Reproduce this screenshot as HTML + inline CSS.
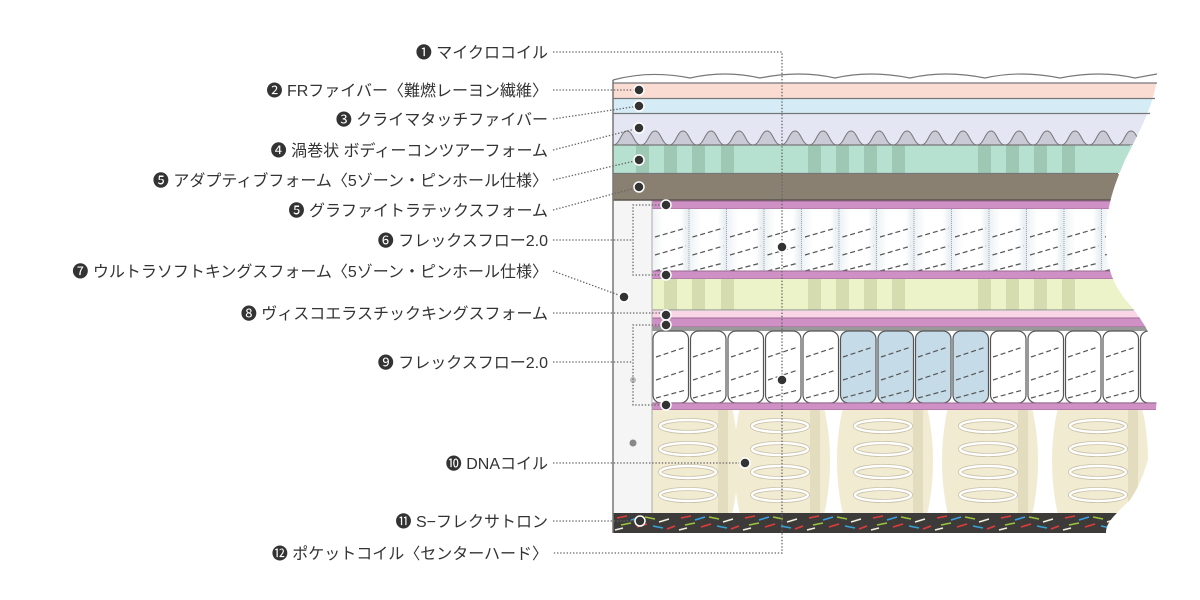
<!DOCTYPE html>
<html><head><meta charset="utf-8"><style>
html,body{margin:0;padding:0;background:#fff;}
svg{display:block}
text{font-family:"Liberation Sans","Noto Sans CJK JP","DejaVu Sans",sans-serif;font-size:16px;fill:#333;}
</style></head><body>
<svg width="1200" height="600" viewBox="0 0 1200 600" xmlns="http://www.w3.org/2000/svg">
<defs>
<clipPath id="body">
<path d="M613,80 L1157,72 C1157,100 1140,130 1125,160 C1112,190 1106,210 1106,240 C1106,265 1112,285 1130,305 C1150,330 1157,345 1157,380 C1157,430 1150,470 1130,500 C1115,515 1106,522 1106,533 L613,533 Z"/>
</clipPath>
<clipPath id="dna"><rect x="652" y="410" width="520" height="103"/></clipPath>
<linearGradient id="cg" x1="0" x2="1" y1="0" y2="0">
<stop offset="0" stop-color="#eef2f5"/><stop offset="0.3" stop-color="#fff"/><stop offset="0.75" stop-color="#fff"/><stop offset="1" stop-color="#e2e9ee"/>
</linearGradient>
<pattern id="coil6" x="652" y="209" width="37.5" height="62" patternUnits="userSpaceOnUse">
<rect width="37.5" height="62" fill="url(#cg)"/>
<line x1="37" y1="0" x2="37" y2="62" stroke="#9aa8b0" stroke-width="1" stroke-dasharray="1 1"/>
<g stroke="#555" stroke-width="1.2" stroke-dasharray="5 3" fill="none">
<path d="M3,28 L34,19"/><path d="M3,46 L34,37"/><path d="M3,62 L34,54"/>
</g>
</pattern>
<pattern id="bot" x="613" y="513" width="64" height="19" patternUnits="userSpaceOnUse">
<rect width="64" height="19" fill="#3c3b3a"/>
<g stroke-width="1.6">
<line x1="4" y1="5" x2="14" y2="3" stroke="#e23b3b"/>
<line x1="18" y1="7" x2="28" y2="4" stroke="#3aa0e0"/>
<line x1="32" y1="4" x2="42" y2="6" stroke="#9bc43c"/>
<line x1="46" y1="9" x2="56" y2="6" stroke="#f0f0e0"/>
<line x1="8" y1="12" x2="18" y2="10" stroke="#9bc43c"/>
<line x1="24" y1="14" x2="34" y2="11" stroke="#e23b3b"/>
<line x1="40" y1="13" x2="50" y2="15" stroke="#3aa0e0"/>
<line x1="54" y1="16" x2="62" y2="13" stroke="#e23b3b"/>
<line x1="2" y1="17" x2="10" y2="15" stroke="#f0f0e0"/>
</g>
</pattern>
<g id="spring" fill="none">
<g stroke="#c8c0a8" stroke-width="4">
<ellipse cx="0" cy="426" rx="28" ry="6"/><ellipse cx="0" cy="449" rx="28" ry="6"/><ellipse cx="0" cy="472" rx="28" ry="6"/><ellipse cx="0" cy="495" rx="28" ry="6"/>
</g>
<g stroke="#fff" stroke-width="2.4">
<ellipse cx="0" cy="426" rx="28" ry="6"/><ellipse cx="0" cy="449" rx="28" ry="6"/><ellipse cx="0" cy="472" rx="28" ry="6"/><ellipse cx="0" cy="495" rx="28" ry="6"/>
</g>
</g>
</defs>

<g clip-path="url(#body)">
<rect x="613" y="70" width="560" height="470" fill="#fff"/>
<rect x="613" y="83" width="560" height="15" fill="#fadcd3"/>
<rect x="613" y="99" width="560" height="14" fill="#d5ecf7"/>
<rect x="613" y="114" width="560" height="31" fill="#e4e6f4"/>
<g fill="#c9cad6" stroke="#777" stroke-width="1">
<path d="M613,145 C620,145 621,131 627,131 C633,131 634,145 641,145 C648,145 649,131 655,131 C661,131 662,145 669,145 C676,145 677,131 683,131 C689,131 690,145 697,145 C704,145 705,131 711,131 C717,131 718,145 725,145 C732,145 733,131 739,131 C745,131 746,145 753,145 C760,145 761,131 767,131 C773,131 774,145 781,145 C788,145 789,131 795,131 C801,131 802,145 809,145 C816,145 817,131 823,131 C829,131 830,145 837,145 C844,145 845,131 851,131 C857,131 858,145 865,145 C872,145 873,131 879,131 C885,131 886,145 893,145 C900,145 901,131 907,131 C913,131 914,145 921,145 C928,145 929,131 935,131 C941,131 942,145 949,145 C956,145 957,131 963,131 C969,131 970,145 977,145 C984,145 985,131 991,131 C997,131 998,145 1005,145 C1012,145 1013,131 1019,131 C1025,131 1026,145 1033,145 C1040,145 1041,131 1047,131 C1053,131 1054,145 1061,145 C1068,145 1069,131 1075,131 C1081,131 1082,145 1089,145 C1096,145 1097,131 1103,131 C1109,131 1110,145 1117,145 C1124,145 1125,131 1131,131 C1137,131 1138,145 1145,145 C1152,145 1153,131 1159,131 L1170,145 Z"/>
</g>
<rect x="613" y="145" width="560" height="28" fill="#b6e0cf"/>
<g fill="#9ec7b4">
<rect x="636" y="145" width="13" height="28"/><rect x="664" y="145" width="13" height="28"/><rect x="692" y="145" width="13" height="28"/><rect x="721" y="145" width="13" height="28"/>
<rect x="808" y="145" width="13" height="28"/><rect x="836" y="145" width="13" height="28"/><rect x="864" y="145" width="13" height="28"/><rect x="892" y="145" width="13" height="28"/>
<rect x="978" y="145" width="13" height="28"/><rect x="1006" y="145" width="13" height="28"/><rect x="1034" y="145" width="13" height="28"/><rect x="1062" y="145" width="13" height="28"/>
</g>
<rect x="613" y="174" width="560" height="26" fill="#8a8072"/>
<line x1="613" y1="200" x2="1170" y2="200" stroke="#5a544c" stroke-width="1.5"/>
<rect x="652" y="201" width="520" height="8" fill="#cf90c5" stroke="#9b6a92" stroke-width="1"/>
<rect x="652" y="209" width="520" height="62" fill="url(#coil6)"/>
<rect x="652" y="271" width="520" height="8" fill="#cf90c5" stroke="#9b6a92" stroke-width="1"/>
<rect x="613" y="279" width="560" height="31" fill="#edf3c8"/>
<g fill="#d5dcb0">
<rect x="636" y="279" width="13" height="31"/><rect x="664" y="279" width="13" height="31"/><rect x="692" y="279" width="13" height="31"/><rect x="721" y="279" width="13" height="31"/>
<rect x="808" y="279" width="13" height="31"/><rect x="836" y="279" width="13" height="31"/><rect x="864" y="279" width="13" height="31"/><rect x="892" y="279" width="13" height="31"/>
<rect x="978" y="279" width="13" height="31"/><rect x="1006" y="279" width="13" height="31"/><rect x="1034" y="279" width="13" height="31"/><rect x="1062" y="279" width="13" height="31"/>
</g>
<line x1="613" y1="310" x2="1170" y2="310" stroke="#888" stroke-width="1"/>
<rect x="652" y="311" width="520" height="7" fill="#f9d5e6"/>
<rect x="652" y="318" width="520" height="9" fill="#cf90c5" stroke="#9b6a92" stroke-width="1"/>
<rect x="652" y="327" width="520" height="4" fill="#999"/>
<g stroke="#555" stroke-width="1.2" fill="#fff">
<rect x="653" y="331" width="35.5" height="72" rx="8"/><rect x="690.5" y="331" width="35.5" height="72" rx="8"/><rect x="728" y="331" width="35.5" height="72" rx="8"/><rect x="765.5" y="331" width="35.5" height="72" rx="8"/><rect x="803" y="331" width="35.5" height="72" rx="8"/>
<rect x="840.5" y="331" width="35.5" height="72" rx="8" fill="#c6dbe8"/><rect x="878" y="331" width="35.5" height="72" rx="8" fill="#c6dbe8"/><rect x="915.5" y="331" width="35.5" height="72" rx="8" fill="#c6dbe8"/><rect x="953" y="331" width="35.5" height="72" rx="8" fill="#c6dbe8"/>
<rect x="990.5" y="331" width="35.5" height="72" rx="8"/><rect x="1028" y="331" width="35.5" height="72" rx="8"/><rect x="1065.5" y="331" width="35.5" height="72" rx="8"/><rect x="1103" y="331" width="35.5" height="72" rx="8"/><rect x="1140.5" y="331" width="35.5" height="72" rx="8"/>
</g>
<g stroke="#555" stroke-width="1.2" stroke-dasharray="5 3" fill="none">
<path d="M656,357 L686,347 M656,380 L686,370 M656,398 L686,390"/>
<path d="M693,357 L723,347 M693,380 L723,370 M693,398 L723,390"/>
<path d="M731,357 L761,347 M731,380 L761,370 M731,398 L761,390"/>
<path d="M768,357 L798,347 M768,380 L798,370 M768,398 L798,390"/>
<path d="M806,357 L836,347 M806,380 L836,370 M806,398 L836,390"/>
<path d="M843,357 L873,347 M843,380 L873,370 M843,398 L873,390"/>
<path d="M881,357 L911,347 M881,380 L911,370 M881,398 L911,390"/>
<path d="M918,357 L948,347 M918,380 L948,370 M918,398 L948,390"/>
<path d="M956,357 L986,347 M956,380 L986,370 M956,398 L986,390"/>
<path d="M993,357 L1023,347 M993,380 L1023,370 M993,398 L1023,390"/>
<path d="M1031,357 L1061,347 M1031,380 L1061,370 M1031,398 L1061,390"/>
<path d="M1068,357 L1098,347 M1068,380 L1098,370 M1068,398 L1098,390"/>
<path d="M1106,357 L1136,347 M1106,380 L1136,370 M1106,398 L1136,390"/>
</g>
<rect x="652" y="403" width="520" height="7" fill="#cf90c5" stroke="#9b6a92" stroke-width="1"/>
<g clip-path="url(#dna)">
<rect x="652" y="410" width="520" height="103" fill="#fff"/>
<g fill="#f1ebd2">
<ellipse cx="690" cy="461" rx="48" ry="110"/>
<ellipse cx="782" cy="461" rx="48" ry="110"/>
<ellipse cx="885" cy="461" rx="48" ry="110"/>
<ellipse cx="990" cy="461" rx="48" ry="110"/>
<ellipse cx="1100" cy="461" rx="48" ry="110"/>
</g>
<g fill="#e4dcbf">
<rect x="718" y="410" width="10" height="103"/><rect x="810" y="410" width="10" height="103"/><rect x="913" y="410" width="10" height="103"/><rect x="1018" y="410" width="10" height="103"/><rect x="1128" y="410" width="10" height="103"/>
</g>
<use href="#spring" x="688"/><use href="#spring" x="780"/><use href="#spring" x="883"/><use href="#spring" x="988"/><use href="#spring" x="1098"/>
</g>
<rect x="613" y="201" width="39" height="312" fill="#f5f5f5"/>
<line x1="652" y1="201" x2="652" y2="513" stroke="#aaa" stroke-width="1"/>
<rect x="613" y="513" width="560" height="20" fill="url(#bot)"/>
</g>
<path d="M613,533 L613,80" stroke="#777" stroke-width="1.5" fill="none"/>
<path d="M613,80 Q650,70 690,78 Q725,70 760,78 Q800,70 835,78 Q870,70 910,78 Q945,70 985,78 Q1020,70 1060,78 Q1100,70 1135,78 L1157,74" stroke="#777" stroke-width="1.2" fill="none"/>
<g stroke="#777" stroke-width="1.2">
<line x1="613" y1="83" x2="1157" y2="83"/><line x1="613" y1="98.5" x2="1155" y2="98.5"/><line x1="613" y1="113.5" x2="1150" y2="113.5"/><line x1="613" y1="145" x2="1130" y2="145"/><line x1="613" y1="173.5" x2="1118" y2="173.5"/>
</g>
<circle cx="633" cy="380" r="3" fill="#bbb"/><circle cx="633" cy="443" r="3.5" fill="#888"/>

<g stroke="#666" stroke-width="1.3" stroke-dasharray="1.4 1.8" fill="none">
<path d="M553,52 H782 V553 H553"/>
<path d="M553,90 H639"/>
<path d="M553,119 L639,106"/>
<path d="M553,150 L639,128"/>
<path d="M553,180 L639,160"/>
<path d="M553,210 L639,187"/>
<path d="M553,240 H633 M666,205 H633 V275 H666"/>
<path d="M553,271 L624,297"/>
<path d="M553,313 H666"/>
<path d="M553,362 H633 M666,325 H633 V405 H666"/>
<path d="M553,463 H745"/>
<path d="M553,521 H640"/>
</g>
<g fill="#333" stroke="#fff" stroke-width="1.5">
<circle cx="639" cy="90" r="5"/><circle cx="639" cy="106" r="5"/><circle cx="639" cy="128" r="5"/><circle cx="639" cy="160" r="5"/><circle cx="639" cy="187" r="5"/>
<circle cx="666" cy="205" r="5"/><circle cx="666" cy="275" r="5"/><circle cx="782" cy="247" r="5"/>
<circle cx="624" cy="297" r="5"/><circle cx="666" cy="315" r="5"/><circle cx="666" cy="325" r="5"/><circle cx="666" cy="405" r="5"/>
<circle cx="782" cy="380" r="5"/><circle cx="745" cy="463" r="5"/><circle cx="640" cy="521" r="5"/>
</g>

<g text-anchor="end">
<text x="548" y="58">❶ マイクロコイル</text>
<text x="548" y="96">❷ FRファイバー〈難燃レーヨン繊維〉</text>
<text x="548" y="125">❸ クライマタッチファイバー</text>
<text x="548" y="156">❹ 渦巻状 ボディーコンツアーフォーム</text>
<text x="548" y="186">❺ アダプティブフォーム〈5ゾーン・ピンホール仕様〉</text>
<text x="548" y="216">❺ グラファイトラテックスフォーム</text>
<text x="548" y="246">❻ フレックスフロー2.0</text>
<text x="548" y="277">❼ ウルトラソフトキングスフォーム〈5ゾーン・ピンホール仕様〉</text>
<text x="548" y="319">❽ ヴィスコエラスチックキングスフォーム</text>
<text x="548" y="368">❾ フレックスフロー2.0</text>
<text x="548" y="469">❿ DNAコイル</text>
<text x="548" y="527">⓫ S−フレクサトロン</text>
<text x="548" y="559">⓬ ポケットコイル〈センターハード〉</text>
</g>
</svg>
</body></html>
